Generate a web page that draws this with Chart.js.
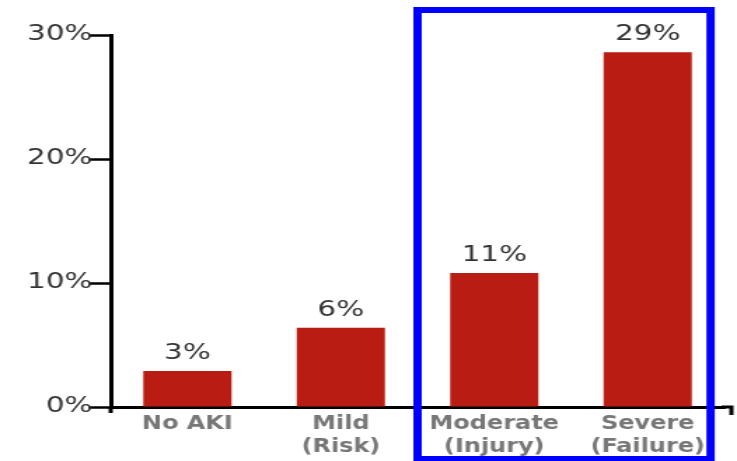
<!DOCTYPE html>
<html>
<head>
<meta charset="utf-8">
<script src="https://cdn.jsdelivr.net/npm/chart.js@4"></script>
<style>
  html, body { margin: 0; padding: 0; background: #fff; }
</style>
</head>
<body>
<!-- the reference picture is stretched sideways, so the canvas is too -->
<canvas id="mortChart" width="526" height="461" style="display:block;width:737px;height:461px"></canvas>
<script>
let categories = ['No AKI', ['Mild', '(Risk)'], ['Moderate', '(Injury)'], ['Severe', '(Failure)']];
let mortality = [2.9, 6.4, 10.8, 28.6];
let valueLabels = ['3%', '6%', '11%', '29%'];
let yMax = 30;
let yStep = 10;

let barColor = '#b81c12';

// text above each bar
let valueLabelPlugin = {
    id: 'valueLabels',
    afterDatasetsDraw(chart) {
        let ctx = chart.ctx;
        let meta = chart.getDatasetMeta(0);
        ctx.save();
        ctx.font = '21px "DejaVu Sans"';
        ctx.fillStyle = '#333';
        ctx.textAlign = 'center';
        ctx.textBaseline = 'bottom';
        meta.data.forEach((bar, i) => {
            ctx.fillText(valueLabels[i], bar.x, bar.y - 7);
        });
        ctx.restore();
    }
};

// axis hooks and the blue highlight box
let decorPlugin = {
    id: 'decor',
    afterDraw(chart) {
        let ctx = chart.ctx;
        let area = chart.chartArea;
        let x = chart.scales.x;
        let w = x.width / categories.length;
        ctx.save();
        ctx.strokeStyle = '#000';
        ctx.lineWidth = 3;
        ctx.beginPath();
        ctx.moveTo(area.right - 2, area.bottom);
        ctx.lineTo(area.right + 5, area.bottom);
        ctx.lineTo(area.right + 5, area.bottom + 8);
        ctx.moveTo(area.left, area.bottom);
        ctx.lineTo(area.left, area.bottom + 6);
        ctx.stroke();

        let left = x.getPixelForValue(2) - w * 0.5;
        let right = x.getPixelForValue(3) + w * 0.41;
        ctx.strokeStyle = '#0000ff';
        ctx.lineWidth = 6;
        ctx.strokeRect(left, 10, right - left, 449);
        ctx.restore();
    }
};

let ctx = document.getElementById('mortChart').getContext('2d');
let myChart = new Chart(ctx, {
    type: 'bar',
    data: {
        labels: categories,
        datasets: [{
            data: mortality,
            backgroundColor: barColor,
            borderWidth: 0,
            categoryPercentage: 1,
            barPercentage: 0.575
        }]
    },
    options: {
        responsive: false,
        animation: false,
        devicePixelRatio: 1,
        layout: {
            padding: { top: 35, right: 9, bottom: 0, left: 0 }
        },
        plugins: {
            legend: { display: false },
            tooltip: { enabled: false }
        },
        scales: {
            x: {
                grid: { display: false },
                border: { display: true, color: '#000', width: 3 },
                ticks: {
                    color: '#777',
                    padding: -2,
                    font: { family: '"DejaVu Sans Condensed", "DejaVu Sans"', size: 19, weight: 'bold', lineHeight: 1.2 }
                },
                afterFit: (scale) => { scale.height = 54; }
            },
            y: {
                min: 0,
                max: yMax,
                ticks: {
                    stepSize: yStep,
                    color: '#333',
                    padding: -3,
                    font: { family: '"DejaVu Sans"', size: 21 },
                    callback: (v) => v + '%'
                },
                grid: {
                    drawOnChartArea: false,
                    drawTicks: true,
                    tickLength: 16,
                    tickColor: '#000',
                    tickWidth: 2.5
                },
                border: { display: true, color: '#000', width: 3 },
                afterFit: (scale) => { scale.width = 79; }
            }
        }
    },
    plugins: [valueLabelPlugin, decorPlugin]
});
</script>
</body>
</html>
